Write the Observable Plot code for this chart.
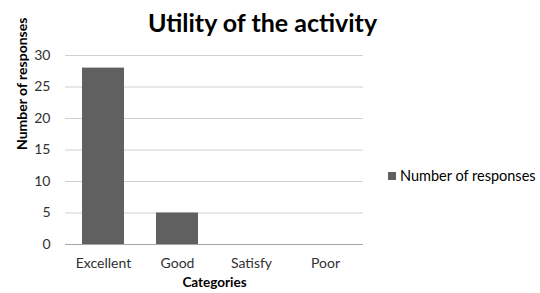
<!DOCTYPE html>
<html>
<head>
<meta charset="utf-8">
<script src="https://cdn.jsdelivr.net/npm/d3@7"></script>
<script src="https://cdn.jsdelivr.net/npm/@observablehq/plot@0.6"></script>
<style>
  html, body { margin: 0; padding: 0; background: #fff; }
  #wrap { position: relative; width: 540px; height: 293px; font-family: Lato, "Open Sans", sans-serif; }
  #title { position: absolute; left: 0; width: 525px; top: 7px; text-align: center; font-size: 25px; font-weight: bold; color: #000; }
  #legend { position: absolute; left: 388px; top: 167px; font-size: 14.5px; color: #000; display: flex; align-items: center; }
  #legend .sw { width: 8px; height: 8px; background: #606060; margin-right: 4px; }
  svg { display: block; }
</style>
</head>
<body>
<div id="wrap">
  <div id="title">Utility of the activity</div>
  <div id="legend"><span class="sw"></span><span>Number of responses</span></div>
</div>
<script>
const categories = ["Excellent", "Good", "Satisfy", "Poor"];
const responses = [28, 5, 0, 0];
const yTicks = [0, 5, 10, 15, 20, 25, 30];
const seriesName = "Number of responses";
const xTitle = "Categories";
const yTitle = "Number of responses";

const data = categories.map((c, i) => ({category: c, value: responses[i]}));

const chart = Plot.plot({
  width: 540,
  height: 293,
  marginTop: 55,
  marginBottom: 49,
  marginLeft: 65,
  marginRight: 177,
  style: {fontFamily: "Lato, 'Open Sans', sans-serif", fontSize: "14px", color: "#303030", background: "transparent"},
  x: {domain: categories, paddingInner: 0.43, paddingOuter: 0.215, label: null},
  y: {domain: [0, 30], label: null},
  marks: [
    Plot.gridY(yTicks, {stroke: "#d0d0d0", strokeOpacity: 1}),
    Plot.barY(data, {x: "category", y: "value", fill: "#606060"}),
    Plot.ruleY([0], {stroke: "#a6a6a6"}),
    Plot.axisY(yTicks, {tickSize: 0, tickPadding: 15, label: null, fontSize: 14}),
    Plot.axisX({tickSize: 0, tickPadding: 14, label: null, fontSize: 14}),
    Plot.text([yTitle], {frameAnchor: "left", rotate: -90, dx: -43, fontWeight: "bold", fontSize: 14, fill: "#000"}),
    Plot.text([xTitle], {frameAnchor: "bottom", dy: 42, fontWeight: "bold", fontSize: 13.5, fill: "#000"})
  ]
});
document.getElementById("wrap").prepend(chart);
chart.style.position = "absolute";
chart.style.left = "0";
chart.style.top = "0";
</script>
</body>
</html>
